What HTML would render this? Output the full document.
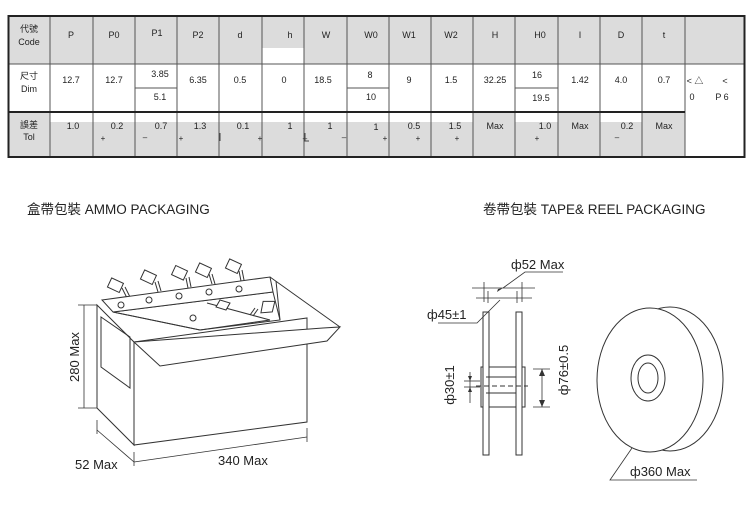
<!DOCTYPE html>
<html><head><meta charset="utf-8"><style>
html,body{margin:0;padding:0;background:#fff;}
svg{display:block;}
text{font-family:"Liberation Sans","Noto Sans CJK TC",sans-serif;fill:#222;}
</style></head><body>
<svg width="750" height="525" viewBox="0 0 750 525" xmlns="http://www.w3.org/2000/svg">
<rect x="8" y="16" width="737" height="48" fill="#dcdcdc"/>
<rect x="262" y="48" width="42" height="16" fill="#fff"/>
<rect x="8" y="112" width="677" height="45" fill="#dcdcdc"/>
<g fill="#fff">
<rect x="50" y="112" width="423" height="10"/>
<rect x="515" y="112" width="43" height="10"/>
<rect x="600" y="112" width="42" height="10"/>
</g>
<rect x="685" y="64" width="60" height="93" fill="#fff"/>
<g stroke="#555" stroke-width="1" fill="none">
<line x1="50" y1="16" x2="50" y2="157"/>
<line x1="93" y1="16" x2="93" y2="157"/>
<line x1="135" y1="16" x2="135" y2="157"/>
<line x1="177" y1="16" x2="177" y2="157"/>
<line x1="219" y1="16" x2="219" y2="157"/>
<line x1="262" y1="16" x2="262" y2="157"/>
<line x1="304" y1="16" x2="304" y2="157"/>
<line x1="347" y1="16" x2="347" y2="157"/>
<line x1="389" y1="16" x2="389" y2="157"/>
<line x1="431" y1="16" x2="431" y2="157"/>
<line x1="473" y1="16" x2="473" y2="157"/>
<line x1="515" y1="16" x2="515" y2="157"/>
<line x1="558" y1="16" x2="558" y2="157"/>
<line x1="600" y1="16" x2="600" y2="157"/>
<line x1="642" y1="16" x2="642" y2="157"/>
<line x1="685" y1="16" x2="685" y2="157"/>
<line x1="8" y1="64" x2="745" y2="64"/>
<line x1="135" y1="88" x2="177" y2="88"/>
<line x1="347" y1="88" x2="389" y2="88"/>
<line x1="515" y1="88" x2="558" y2="88"/>
</g>
<line x1="8" y1="112" x2="685" y2="112" stroke="#222" stroke-width="2"/>
<rect x="8.5" y="16" width="736" height="141" fill="none" stroke="#222" stroke-width="2"/>
<g font-size="9" text-anchor="middle">
<text x="29" y="32" fill="#555">代號</text><text x="29" y="45">Code</text>
<text x="29" y="79" fill="#555">尺寸</text><text x="29" y="92">Dim</text>
<text x="29" y="128" fill="#555">誤差</text><text x="29" y="140">Tol</text>
<text x="71" y="38">P</text><text x="114" y="38">P0</text><text x="157" y="36">P1</text>
<text x="198" y="38">P2</text><text x="240" y="38">d</text><text x="290" y="38">h</text>
<text x="326" y="38">W</text><text x="371" y="38">W0</text><text x="409" y="38">W1</text>
<text x="451" y="38">W2</text><text x="495" y="38">H</text><text x="540" y="38">H0</text>
<text x="580" y="38">I</text><text x="621" y="38">D</text><text x="664" y="38">t</text>
<text x="71" y="83">12.7</text><text x="114" y="83">12.7</text>
<text x="160" y="77">3.85</text><text x="160" y="100">5.1</text>
<text x="198" y="83">6.35</text><text x="240" y="83">0.5</text><text x="284" y="83">0</text>
<text x="323" y="83">18.5</text><text x="370" y="78">8</text><text x="371" y="100">10</text>
<text x="409" y="83">9</text><text x="451" y="83">1.5</text><text x="495" y="83">32.25</text>
<text x="537" y="78">16</text><text x="541" y="101">19.5</text>
<text x="580" y="83">1.42</text><text x="621" y="83">4.0</text><text x="664" y="83">0.7</text>
<text x="73" y="129">1.0</text><text x="117" y="129">0.2</text><text x="161" y="129">0.7</text>
<text x="200" y="129">1.3</text><text x="243" y="129">0.1</text><text x="290" y="129">1</text>
<text x="330" y="129">1</text><text x="376" y="130">1</text><text x="414" y="129">0.5</text>
<text x="455" y="129">1.5</text><text x="495" y="129">Max</text><text x="545" y="129">1.0</text>
<text x="580" y="129">Max</text><text x="627" y="129">0.2</text><text x="664" y="129">Max</text>
<text x="695" y="84" fill="#666">&lt; △</text><text x="725" y="84" fill="#666">&lt;</text>
<text x="692" y="100">0</text><text x="722" y="100">P 6</text>
</g>
<g font-size="8" text-anchor="middle">
<text x="103" y="141">+</text><text x="145" y="140">–</text><text x="181" y="141">+</text>
<text x="260" y="141">+</text><text x="305" y="141">–</text><text x="344" y="140">–</text>
<text x="385" y="141">+</text><text x="418" y="141">+</text><text x="457" y="141">+</text>
<text x="537" y="141">+</text><text x="617" y="140">–</text>
</g>
<g stroke="#444" stroke-width="1"><line x1="220" y1="133" x2="220" y2="141"/><line x1="305" y1="133" x2="305" y2="141"/><line x1="304" y1="141" x2="309" y2="141"/></g>
<text x="27" y="214" font-size="13.5" fill="#333">盒帶包裝  AMMO PACKAGING</text>
<text x="483" y="214" font-size="13.5" fill="#333">卷帶包裝  TAPE&amp; REEL PACKAGING</text>
<g stroke="#333" stroke-width="1" fill="#fff">
<polygon points="97,305 134,342 134,445 97,408"/>
<polygon points="101,317 130,337 130,388 101,367" fill="none"/>
<polygon points="134,342 307,318 307,422 134,445"/>
<g>
<line x1="122" y1="288" x2="127" y2="298"/><line x1="125" y1="287" x2="130" y2="297"/>
<rect x="109" y="280" width="13" height="10" transform="rotate(25 115 285)"/>
<line x1="155" y1="282" x2="158" y2="292"/><line x1="158" y1="281" x2="161" y2="291"/>
<rect x="142" y="272" width="13" height="10" transform="rotate(25 148 277)"/>
<line x1="186" y1="278" x2="188" y2="288"/><line x1="189" y1="277" x2="191" y2="287"/>
<rect x="173" y="268" width="13" height="10" transform="rotate(25 180 273)"/>
<line x1="209" y1="274" x2="212" y2="284"/><line x1="212" y1="274" x2="215" y2="284"/>
<rect x="197" y="265" width="13" height="10" transform="rotate(25 203 270)"/>
<line x1="239" y1="271" x2="241" y2="281"/><line x1="242" y1="270" x2="244" y2="280"/>
<rect x="227" y="261" width="13" height="10" transform="rotate(25 233 266)"/>
</g>
<polygon points="113,312 273,292 280,320 200,330" fill="#fff"/>
<polygon points="102,300 270,277 273,292 113,312"/>
<polyline points="113,312 200,330 270,320" fill="none"/>
<polyline points="207,303 270,320" fill="none"/>
<line x1="276" y1="281" x2="280" y2="320"/>
<polygon points="265,300 276,304 270,313 259,310" transform="rotate(-20 268 306)"/>
<line x1="255" y1="308" x2="250" y2="315"/><line x1="258" y1="309" x2="253" y2="316"/>
<polygon points="220,300 230,303 226,310 216,307"/>
<polygon points="134,342 323,328 340,327 327,341 160,366"/>
<line x1="270" y1="277" x2="340" y2="327" fill="none"/>
<circle cx="121" cy="305" r="3"/><circle cx="149" cy="300" r="3"/><circle cx="179" cy="296" r="3"/>
<circle cx="209" cy="292" r="3"/><circle cx="239" cy="289" r="3"/><circle cx="193" cy="318" r="3"/>
</g>
<g stroke="#333" stroke-width="0.8" fill="none">
<line x1="84" y1="305" x2="84" y2="408"/><line x1="78" y1="305" x2="97" y2="305"/><line x1="78" y1="408" x2="97" y2="408"/>
<line x1="97" y1="420" x2="97" y2="434"/><line x1="134" y1="452" x2="134" y2="466"/><line x1="307" y1="428" x2="307" y2="442"/>
<line x1="97" y1="430" x2="134" y2="462"/><line x1="134" y1="462" x2="307" y2="437"/>
</g>
<text transform="translate(79 357) rotate(-90)" font-size="13" text-anchor="middle" fill="#333">280 Max</text>
<text x="75" y="469" font-size="13" fill="#333">52 Max</text>
<text x="218" y="465" font-size="13" fill="#333">340 Max</text>
<g stroke="#333" stroke-width="1" fill="#fff">
<rect x="481" y="367" width="44" height="40"/>
<rect x="483" y="312" width="6" height="143"/>
<rect x="516" y="312" width="6" height="143"/>
<line x1="486" y1="377" x2="516" y2="377"/><line x1="486" y1="393" x2="516" y2="393"/>
<line x1="476" y1="386" x2="528" y2="386" stroke-dasharray="5,3"/>
</g>
<g stroke="#333" stroke-width="0.8" fill="none">
<line x1="472" y1="288" x2="535" y2="288"/><line x1="476" y1="298" x2="532" y2="298"/>
<line x1="484" y1="282" x2="484" y2="302"/><line x1="488" y1="291" x2="488" y2="303"/>
<line x1="517" y1="291" x2="517" y2="303"/><line x1="522" y1="282" x2="522" y2="302"/>
<polyline points="503,288 525,272 563,272"/>
<polyline points="500,300 477,323 438,323"/>
<line x1="470" y1="372" x2="470" y2="403"/><line x1="464" y1="381" x2="480" y2="381"/><line x1="464" y1="387" x2="480" y2="387"/>
<line x1="542" y1="369" x2="542" y2="407"/><line x1="533" y1="369" x2="550" y2="369"/><line x1="533" y1="407" x2="550" y2="407"/>
<polyline points="632,448 610,480 697,480"/>
</g>
<g fill="#333">
<polygon points="503,288 497,292 498,289"/><polygon points="542,369 539,376 545,376"/><polygon points="542,407 539,400 545,400"/>
<polygon points="470,381 468,376 472,376"/><polygon points="470,387 468,392 472,392"/>
</g>
<text x="511" y="269" font-size="13" fill="#333">ф52 Max</text>
<text x="427" y="319" font-size="13" fill="#333">ф45±1</text>
<text transform="translate(454 385) rotate(-90)" font-size="13" text-anchor="middle" fill="#333">ф30±1</text>
<text transform="translate(568 370) rotate(-90)" font-size="13" text-anchor="middle" fill="#333">ф76±0.5</text>
<g stroke="#333" stroke-width="1" fill="#fff">
<ellipse cx="670" cy="379" rx="53" ry="72"/>
<ellipse cx="650" cy="380" rx="53" ry="72"/>
<ellipse cx="648" cy="378" rx="17" ry="23"/>
<ellipse cx="648" cy="378" rx="10" ry="15"/>
</g>
<text x="630" y="476" font-size="13" fill="#333">ф360 Max</text>
</svg>
</body></html>
